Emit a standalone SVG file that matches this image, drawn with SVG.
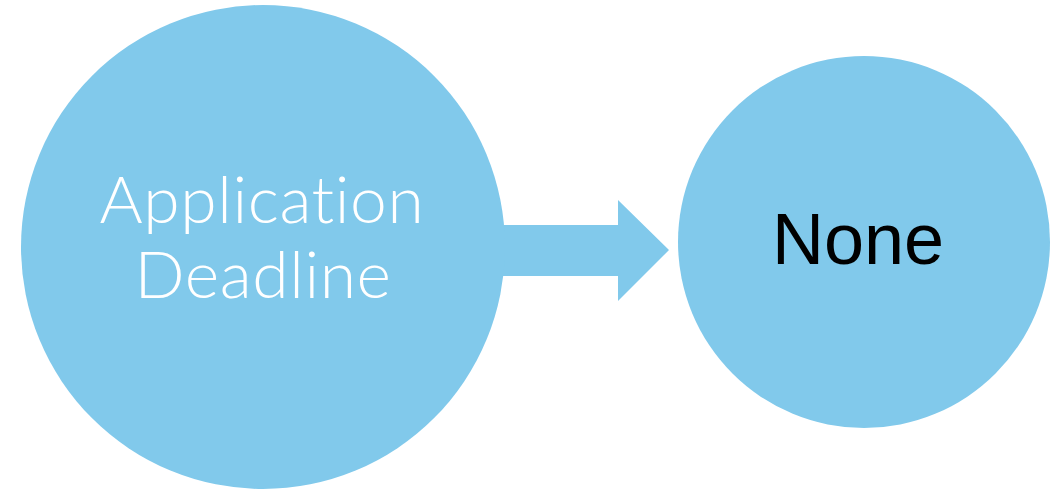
<svg xmlns="http://www.w3.org/2000/svg" width="1059" height="490" viewBox="0 0 1059 490">
<style>
.node{fill:#81c9eb}
.lbl1{font-family:Lato,"Open Sans",sans-serif;font-weight:300;font-size:66px;letter-spacing:0.6px;font-variant-ligatures:none;fill:#fff;text-anchor:middle}
.lbl2{font-family:"Liberation Sans",Arial,sans-serif;font-size:72px;fill:#000;text-anchor:middle}
</style>
<rect width="1059" height="490" fill="#fff"/>
<g id="connectors">
<polygon class="node" points="495,225 618,225 618,200 669,250 618,301 618,276 495,276"/>
</g>
<g id="node-deadline">
<circle class="node" cx="263" cy="247" r="242"/>
<text class="lbl1" x="262" y="223">Application</text>
<text class="lbl1" x="263" y="298">Deadline</text>
</g>
<g id="node-none">
<circle class="node" cx="864" cy="242" r="186"/>
<text class="lbl2" x="858" y="264">None</text>
</g>
</svg>
